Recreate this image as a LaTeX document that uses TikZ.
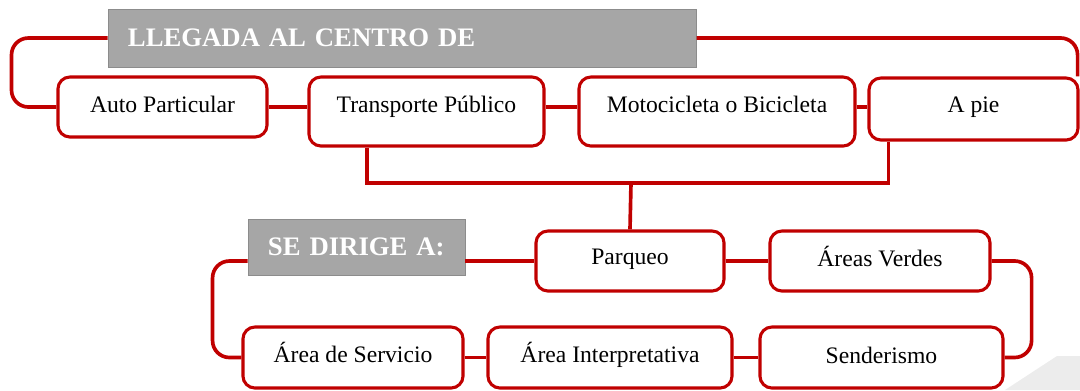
\documentclass[tikz,border=0pt]{standalone}
\usepackage{fontspec}
\setmainfont{Liberation Serif}
\usepackage{tikz}
\usetikzlibrary{positioning, calc}
\definecolor{rojo}{HTML}{C00000}
\definecolor{gris}{HTML}{A6A6A6}
\definecolor{grisborde}{HTML}{8C8C8C}

\tikzset{
  opcion/.style={draw=rojo, line width=2.2pt, rounded corners=8.5pt, fill=white,
    minimum height=1.5cm, inner sep=0pt, text height=11.5pt, text depth=3.5pt,
    font=\fontsize{16.8}{20}\selectfont},
  titulo/.style={draw=grisborde, line width=0.6pt, fill=gris, text=white,
    font=\fontsize{19}{22}\selectfont\bfseries, align=left, inner xsep=0.5cm, inner ysep=0pt},
  enlace/.style={draw=rojo, line width=2.6pt},
}

\begin{document}
\begin{tikzpicture}[x=0.025cm, y=-0.025cm]
        \useasboundingbox (0,0) rectangle (1080,390);

        % Page curl
        \fill[gray!15] (1005,390) -- (1057,356) -- (1080,356) -- (1080,390) -- cycle;

        % Headers
        \node[titulo, minimum height=1.45cm, text width=13.7cm] (llegada) at (402,38) {LLEGADA AL CENTRO DE};
        \node[titulo, minimum height=1.4cm, text width=4.425cm] (dirige) at (356.5,247) {SE DIRIGE A:};

        % Ways of arriving
        \node[opcion, minimum width=5.225cm] (auto) at (162.5,107) {Auto Particular};
        \node[opcion, minimum width=5.875cm, minimum height=1.725cm, text depth=9.4pt] (transp) at (426.5,111.5) {Transporte Público};
        \node[opcion, minimum width=6.9cm, minimum height=1.725cm, text depth=9.4pt] (moto) at (717,111.5) {Motocicleta o Bicicleta};
        \node[opcion, minimum width=5.225cm, minimum height=1.55cm, text depth=5.9pt] (pie) at (973.5,109) {A pie};

        % Destinations
        \node[opcion, minimum width=4.7cm, text depth=5.9pt] (parqueo) at (630,261) {Parqueo};
        \node[opcion, minimum width=5.5cm] (verdes) at (880,261) {Áreas Verdes};
        \node[opcion, minimum width=5.5cm, minimum height=1.525cm, text depth=5.1pt] (servicio) at (353,357.5) {Área de Servicio};
        \node[opcion, minimum width=6.1cm, minimum height=1.525cm, text depth=5.1pt] (interp) at (610,357.5) {Área Interpretativa};
        \node[opcion, minimum width=6.075cm, minimum height=1.525cm] (sender) at (881.5,357.5) {Senderismo};

        % Top connectors
        \draw[enlace, rounded corners=12pt] (llegada.west) -- ++(-96,0) |- (auto.west);
        \draw[enlace, rounded corners=12pt] (llegada.east) -| ($(pie.north east)+(-2,0)$);
        \draw[enlace] (auto.east) -- (auto.east -| transp.west);
        \draw[enlace] (auto.east -| transp.east) -- (auto.east -| moto.west);
        \draw[enlace] (auto.east -| moto.east) -- (auto.east -| pie.west);

        % Join to destinations
        \coordinate (cruce) at (631,183);
        \draw[enlace] ($(transp.south west)!0.25!(transp.south east)$) |- (cruce) -| ($(pie.south west)!0.1!(pie.south east)$);
        \draw[enlace] (cruce) -- (parqueo.north);

        % Bottom connectors
        \draw[enlace] (parqueo.west -| dirige.east) -- (parqueo.west);
        \draw[enlace, rounded corners=12pt] (parqueo.west -| dirige.west) -- ++(-35,0) |- (servicio.west);
        \draw[enlace] (parqueo.east) -- (verdes.west);
        \draw[enlace, rounded corners=12pt] (verdes.east) -- ++(40,0) |- (sender.east);
        \draw[enlace] (servicio.east) -- (interp.west);
        \draw[enlace] (interp.east) -- (sender.west);
    \end{tikzpicture}
\end{document}
